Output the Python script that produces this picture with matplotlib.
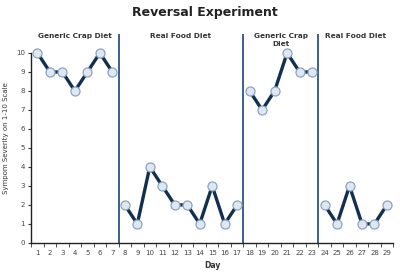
import matplotlib
matplotlib.use("Agg")
import matplotlib.pyplot as plt
import numpy as np

# phases of the experiment
phase_names = ["Generic Crap Diet", "Real Food Diet", "Generic Crap\nDiet", "Real Food Diet"]
phase_days = [
    [1, 2, 3, 4, 5, 6, 7],
    [8, 9, 10, 11, 12, 13, 14, 15, 16, 17],
    [18, 19, 20, 21, 22, 23],
    [24, 25, 26, 27, 28, 29],
]
phase_values = [
    [10, 9, 9, 8, 9, 10, 9],
    [2, 1, 4, 3, 2, 2, 1, 3, 1, 2],
    [8, 7, 8, 10, 9, 9],
    [2, 1, 3, 1, 1, 2],
]

line_color = "#132f4f"
divider_color = "#3d5f8c"

fig = plt.figure(figsize=(4, 2.72), dpi=100)
ax = fig.add_axes([0.078, 0.107, 0.905, 0.768])

for days, vals in zip(phase_days, phase_values):
    ax.plot(days, vals, color=line_color, lw=2.4, marker="o", ms=6.5,
            mfc="#dde8f4", mec="#8ea3bb", mew=0.9, zorder=3)

# phase dividers and labels
for i, days in enumerate(phase_days):
    if i > 0:
        ax.axvline(days[0] - 0.5, ymin=0, ymax=1, color=divider_color, lw=1.4)
    center = (days[0] + days[-1]) / 2
    ax.text(center, 11.05, phase_names[i], ha="center", va="top",
            fontsize=5.3, fontweight="bold", color="#333333", linespacing=1.3)

ax.set_xlim(0.5, 29.5)
ax.set_ylim(0, 11)
ax.set_xticks(range(1, 30))
ax.set_xticks(np.arange(0.5, 30, 1), minor=True)
ax.set_yticks(range(0, 11))
ax.tick_params(axis="x", which="major", length=0, labelsize=5, colors="#444444", pad=5)
ax.tick_params(axis="x", which="minor", length=3, direction="out", color="#333333")
ax.tick_params(axis="y", length=2.5, labelsize=5, colors="#444444", pad=2)
ax.tick_params(axis="y", color="#333333")

for side in ["top", "right"]:
    ax.spines[side].set_visible(False)
for side in ["left", "bottom"]:
    ax.spines[side].set_color("#222222")
    ax.spines[side].set_linewidth(1.0)
ax.spines["left"].set_bounds(0, 10)

ax.set_xlabel("Day", fontsize=5.5, fontweight="bold", color="#333333", labelpad=4)
ax.set_ylabel("Sympom Severity on 1-10 Scale", fontsize=5, color="#333333", labelpad=5)

fig.text(0.513, 0.955, "Reversal Experiment", ha="center", va="center",
         fontsize=9, fontweight="bold", color="#222222")

fig.savefig("out.png", dpi=100)
